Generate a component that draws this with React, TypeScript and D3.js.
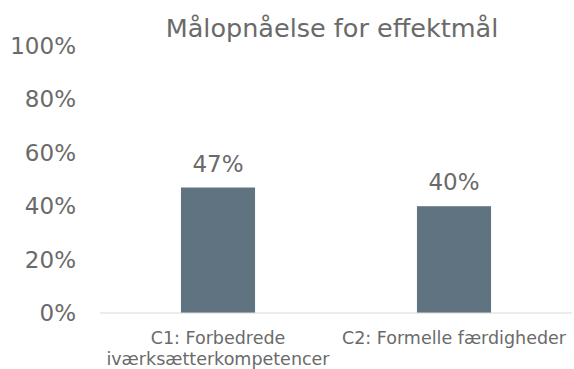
import React from "react";
import * as d3 from "d3";

const categories: string[][] = [
  ["C1: Forbedrede", "iværksætterkompetencer"],
  ["C2: Formelle færdigheder"],
];
const values: number[] = [47, 40];
const yTicks: number[] = [0, 20, 40, 60, 80, 100];
const title = "Målopnåelse for effektmål";

const W = 574;
const H = 369;
const FONT = "Verdana, 'DejaVu Sans', sans-serif";
const TEXT = "#6a6a6a";
const BAR = "#5f7480";

export default function App() {
  const keys = categories.map((c) => c.join(" "));
  const x = d3
    .scaleBand<string>()
    .domain(keys)
    .range([100, 572])
    .paddingInner(0.686)
    .paddingOuter(0.343);
  const y = d3.scaleLinear().domain([0, 100]).range([313, 46]);

  return (
    <svg
      width={W}
      height={H}
      style={{ position: "absolute", left: 0, top: 0, background: "#fff" }}
      fontFamily={FONT}
    >
      <text x={332} y={37} textAnchor="middle" fontSize={25.5} fill={TEXT}>
        {title}
      </text>

      {yTicks.map((t) => (
        <text
          key={t}
          x={76}
          y={y(t)}
          dy="0.35em"
          textAnchor="end"
          fontSize={23}
          fill={TEXT}
        >
          {t}%
        </text>
      ))}

      {values.map((v, i) => {
        const k = keys[i];
        const bx = x(k)!;
        const bw = x.bandwidth();
        return (
          <g key={k}>
            <rect x={bx} y={y(v)} width={bw} height={y(0) - y(v)} fill={BAR} />
            <text
              x={bx + bw / 2}
              y={y(v) - 16}
              textAnchor="middle"
              fontSize={23}
              fill={TEXT}
            >
              {v}%
            </text>
          </g>
        );
      })}

      <line x1={100} x2={572} y1={y(0)} y2={y(0)} stroke="#d9d9d9" strokeWidth={1} />

      {categories.map((lines, i) => {
        const cx = x(keys[i])! + x.bandwidth() / 2;
        return (
          <text key={i} textAnchor="middle" fontSize={17.5} fill={TEXT}>
            {lines.map((ln, j) => (
              <tspan key={j} x={cx} y={344 + j * 20.5}>
                {ln}
              </tspan>
            ))}
          </text>
        );
      })}
    </svg>
  );
}
